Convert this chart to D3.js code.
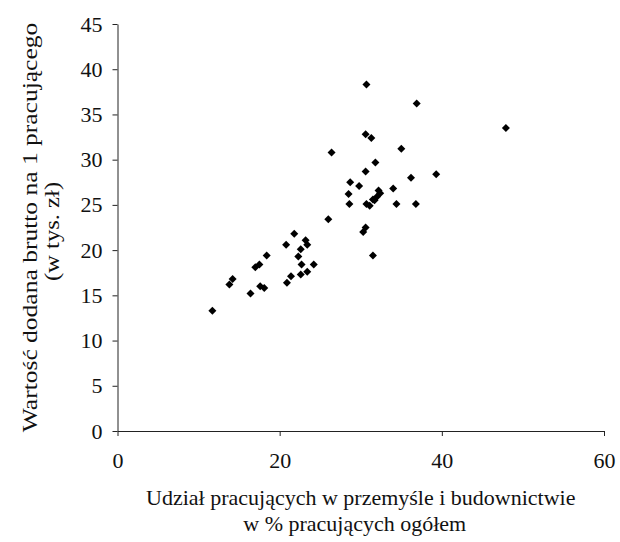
<!DOCTYPE html>
<html>
<head>
<meta charset="utf-8">
<script src="https://cdn.jsdelivr.net/npm/d3@7"></script>
<style>
  body { margin: 0; background: #fff; }
  .chart text { font-family: "Liberation Serif", "Times New Roman", serif; fill: #111; }
  .axis path, .axis line { stroke: #222; }
</style>
</head>
<body>
<svg class="chart"></svg>
<script>
// udział pracujących w przemyśle i budownictwie (%)
var shareIndustry = [
  11.7, 13.8, 14.2, 16.4, 17.0, 17.5, 17.6, 18.1, 18.4,
  20.8, 20.9, 21.4, 21.8, 22.3, 22.6, 22.6, 22.7, 23.2, 23.4, 23.4, 24.2,
  26.0, 26.4, 28.5, 28.6, 28.7, 29.8, 30.3, 30.6, 30.6, 30.6, 30.7, 30.7,
  31.1, 31.3, 31.5, 31.5, 31.7, 31.8, 32.0, 32.2, 32.4, 34.0, 34.4,
  35.0, 36.2, 36.8, 36.9, 39.3, 47.9
];
// wartość dodana brutto na 1 pracującego (tys. zł)
var valueAdded = [
  13.3, 16.2, 16.8, 15.2, 18.1, 18.4, 16.0, 15.8, 19.4,
  20.6, 16.4, 17.1, 21.8, 19.3, 20.1, 17.3, 18.4, 21.1, 20.6, 17.6, 18.4,
  23.4, 30.8, 26.2, 25.1, 27.5, 27.1, 22.0, 22.5, 28.7, 32.8, 38.3, 25.1,
  24.9, 32.4, 19.4, 25.6, 25.5, 29.7, 25.9, 26.6, 26.3, 26.8, 25.1,
  31.2, 28.0, 25.1, 36.2, 28.4, 33.5
];
var xTicks = [0, 20, 40, 60];
var yTicks = [0, 5, 10, 15, 20, 25, 30, 35, 40, 45];

var width = 620, height = 542,
  fontSize = 22;
var margin = {top: 24, right: 16, bottom: 111, left: 117.5};

var svg = d3.select(".chart")
  .attr("width", width)
  .attr("height", height);

var x = d3.scaleLinear()
  .domain([0, 60])
  .range([margin.left, width - margin.right]);

var y = d3.scaleLinear()
  .domain([0, 45])
  .range([height - margin.bottom, margin.top]);

svg.append("g")
  .attr("class", "axis")
  .attr("transform", "translate(0," + y(0) + ")")
  .call(d3.axisBottom(x).tickValues(xTicks).tickSize(5).tickSizeOuter(0).tickPadding(16))
  .selectAll("text")
    .style("font-size", fontSize + "px");

svg.append("g")
  .attr("class", "axis")
  .attr("transform", "translate(" + x(0) + ",0)")
  .call(d3.axisLeft(y).tickValues(yTicks).tickSize(5).tickSizeOuter(0).tickPadding(10))
  .selectAll("text")
    .style("font-size", fontSize + "px");

svg.selectAll(".axis text").attr("font-family", null);

var data = shareIndustry.map(function(d, i) { return [d, valueAdded[i]]; });

var marker = d3.symbol().type(d3.symbolSquare).size(32);

svg.append("g")
  .selectAll("path")
  .data(data)
  .enter().append("path")
  .attr("d", marker)
  .attr("fill", "#000")
  .attr("transform", function(d) {
    return "translate(" + x(d[0]) + "," + y(d[1]) + ") rotate(45)";
  });

// podpisy osi
var xMid = (x(0) + x(60)) / 2;
svg.append("text")
  .attr("x", xMid)
  .attr("y", 505)
  .attr("text-anchor", "middle")
  .style("font-size", fontSize + "px")
  .text("Udział pracujących w przemyśle i budownictwie");
svg.append("text")
  .attr("x", xMid - 6)
  .attr("y", 531)
  .attr("text-anchor", "middle")
  .style("font-size", fontSize + "px")
  .text("w % pracujących ogółem");

// tytuł osi Y jest w oryginale nieco rozciągnięty w pionie
var yMid = (y(0) + y(45)) / 2;
svg.append("text")
  .attr("transform", "translate(37," + yMid + ") scale(1,1.16) rotate(-90)")
  .attr("text-anchor", "middle")
  .style("font-size", fontSize + "px")
  .text("Wartość dodana brutto na 1 pracującego");
svg.append("text")
  .attr("transform", "translate(59," + (yMid + 4) + ") scale(1,1.12) rotate(-90)")
  .attr("text-anchor", "middle")
  .style("font-size", fontSize + "px")
  .text("(w tys. zł)");
</script>
</body>
</html>
